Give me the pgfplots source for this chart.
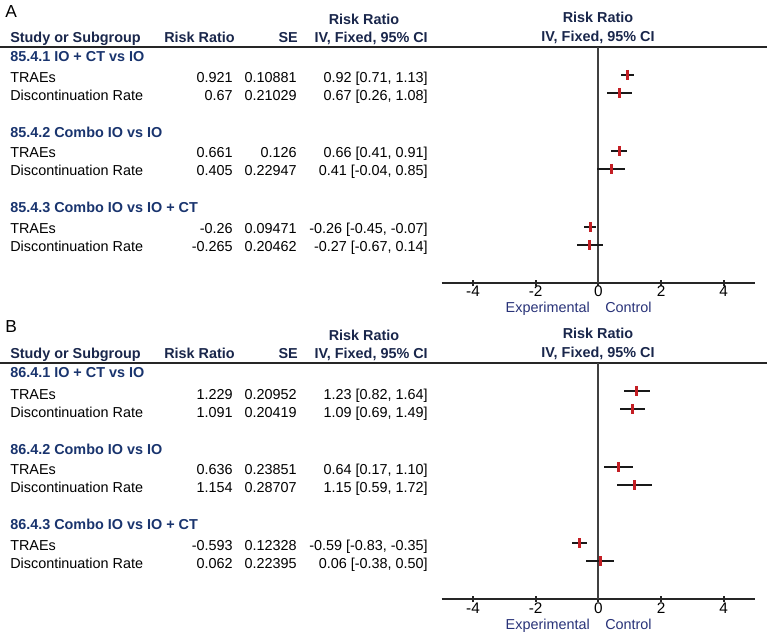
\documentclass[border=0pt]{standalone}
\usepackage{fontspec}
\setmainfont{Liberation Sans}
\usepackage{pgfplots}
\pgfplotsset{compat=1.18}
\usepackage{pgfplotstable}

\definecolor{hdr}{RGB}{25,38,75}
\definecolor{grp}{RGB}{25,52,110}
\definecolor{ec}{RGB}{40,50,120}
\definecolor{est}{RGB}{196,30,36}

% rows: y = -(pixel row), estimate, 95% CI
\pgfplotstableread{
y est lo hi
-75 0.92 0.71 1.13
-93 0.67 0.26 1.08
-151 0.66 0.41 0.91
-169 0.41 -0.04 0.85
-227 -0.26 -0.45 -0.07
-245 -0.27 -0.67 0.14
}\dataA
\pgfplotstableread{
y est lo hi
-391 1.23 0.82 1.64
-409 1.09 0.69 1.49
-467 0.64 0.17 1.10
-485 1.15 0.59 1.72
-543 -0.59 -0.83 -0.35
-561 0.06 -0.38 0.50
}\dataB

\pgfplotsset{forest/.style={
  scale only axis, width=235pt, height=177pt,
  xmin=-5, xmax=5, clip=false,
  axis x line*=bottom, axis y line=none,
  axis line style={line width=1.4pt, black!85},
  xtick={-4,-2,0,2,4}, xticklabels={-4,-2,0,2,4},
  tick align=center, major tick length=5pt,
  tick style={line width=1.4pt, black!85},
  xticklabel style={anchor=base, inner sep=0pt, font=\fontsize{11.5}{13}\selectfont},
  xticklabel shift=8pt,
  ytick=\empty,
}}

\newcommand{\forestplot}[1]{%
  \addplot[draw=none, mark=none, error bars/.cd, x dir=both, x explicit,
    error mark=none, error bar style={line width=1.4pt, black!90}]
    table[x=est, y=y, x error plus expr=\thisrow{hi}-\thisrow{est},
          x error minus expr=\thisrow{est}-\thisrow{lo}] {#1};
  \addplot[only marks, mark=|, mark size=3.75pt,
    mark options={line width=2.2pt, draw=est}] table[x=est, y=y] {#1};
}

\begin{document}
\fontsize{10.8}{13}\selectfont
\begin{tikzpicture}
\begin{scope}[x=0.75pt, y=0.75pt]
\path[use as bounding box] (0,0) rectangle (767,636);
\coordinate (pa) at (441.7,636-283);
\coordinate (pb) at (441.7,636-599);

% ---------- panel A ----------
\node[anchor=base west, inner sep=0, font=\fontsize{13}{15}\selectfont] at (5,636-18) {A};
\node[anchor=base, inner sep=0, font=\bfseries, text=hdr] at (364,636-25) {Risk Ratio};
\node[anchor=base, inner sep=0, font=\bfseries, text=hdr] at (598,636-23) {Risk Ratio};
\node[anchor=base west, inner sep=0, font=\bfseries, text=hdr] at (10,636-43) {Study or Subgroup};
\node[anchor=base east, inner sep=0, font=\bfseries, text=hdr] at (235,636-43) {Risk Ratio};
\node[anchor=base east, inner sep=0, font=\bfseries, text=hdr] at (298,636-43) {SE};
\node[anchor=base east, inner sep=0, font=\bfseries, text=hdr] at (428,636-43) {IV, Fixed, 95\% CI};
\node[anchor=base, inner sep=0, font=\bfseries, text=hdr] at (598,636-42) {IV, Fixed, 95\% CI};
\draw[line width=1.4pt, black!85] (0,636-47) -- (767,636-47);

\node[anchor=base west, inner sep=0, font=\bfseries, text=grp] at (10,636-62) {85.4.1 IO + CT vs IO};
\node[anchor=base west, inner sep=0] at (10,636-83) {TRAEs};
\node[anchor=base east, inner sep=0] at (233,636-83) {0.921};
\node[anchor=base east, inner sep=0] at (297,636-83) {0.10881};
\node[anchor=base east, inner sep=0] at (428,636-83) {0.92 [0.71, 1.13]};
\node[anchor=base west, inner sep=0] at (10,636-101) {Discontinuation Rate};
\node[anchor=base east, inner sep=0] at (233,636-101) {0.67};
\node[anchor=base east, inner sep=0] at (297,636-101) {0.21029};
\node[anchor=base east, inner sep=0] at (428,636-101) {0.67 [0.26, 1.08]};

\node[anchor=base west, inner sep=0, font=\bfseries, text=grp] at (10,636-138) {85.4.2 Combo IO vs IO};
\node[anchor=base west, inner sep=0] at (10,636-158) {TRAEs};
\node[anchor=base east, inner sep=0] at (233,636-158) {0.661};
\node[anchor=base east, inner sep=0] at (297,636-158) {0.126};
\node[anchor=base east, inner sep=0] at (428,636-158) {0.66 [0.41, 0.91]};
\node[anchor=base west, inner sep=0] at (10,636-176) {Discontinuation Rate};
\node[anchor=base east, inner sep=0] at (233,636-176) {0.405};
\node[anchor=base east, inner sep=0] at (297,636-176) {0.22947};
\node[anchor=base east, inner sep=0] at (428,636-176) {0.41 [-0.04, 0.85]};

\node[anchor=base west, inner sep=0, font=\bfseries, text=grp] at (10,636-213) {85.4.3 Combo IO vs IO + CT};
\node[anchor=base west, inner sep=0] at (10,636-234) {TRAEs};
\node[anchor=base east, inner sep=0] at (233,636-234) {-0.26};
\node[anchor=base east, inner sep=0] at (297,636-234) {0.09471};
\node[anchor=base east, inner sep=0] at (428,636-234) {-0.26 [-0.45, -0.07]};
\node[anchor=base west, inner sep=0] at (10,636-252) {Discontinuation Rate};
\node[anchor=base east, inner sep=0] at (233,636-252) {-0.265};
\node[anchor=base east, inner sep=0] at (297,636-252) {0.20462};
\node[anchor=base east, inner sep=0] at (428,636-252) {-0.27 [-0.67, 0.14]};

\node[anchor=base east, inner sep=0, text=ec] at (590,636-313) {Experimental};
\node[anchor=base west, inner sep=0, text=ec] at (605,636-313) {Control};

% ---------- panel B ----------
\node[anchor=base west, inner sep=0, font=\fontsize{13}{15}\selectfont] at (5,636-333) {B};
\node[anchor=base, inner sep=0, font=\bfseries, text=hdr] at (364,636-341) {Risk Ratio};
\node[anchor=base, inner sep=0, font=\bfseries, text=hdr] at (598,636-339) {Risk Ratio};
\node[anchor=base west, inner sep=0, font=\bfseries, text=hdr] at (10,636-359) {Study or Subgroup};
\node[anchor=base east, inner sep=0, font=\bfseries, text=hdr] at (235,636-359) {Risk Ratio};
\node[anchor=base east, inner sep=0, font=\bfseries, text=hdr] at (298,636-359) {SE};
\node[anchor=base east, inner sep=0, font=\bfseries, text=hdr] at (428,636-359) {IV, Fixed, 95\% CI};
\node[anchor=base, inner sep=0, font=\bfseries, text=hdr] at (598,636-358) {IV, Fixed, 95\% CI};
\draw[line width=1.4pt, black!85] (0,636-363) -- (767,636-363);

\node[anchor=base west, inner sep=0, font=\bfseries, text=grp] at (10,636-378) {86.4.1 IO + CT vs IO};
\node[anchor=base west, inner sep=0] at (10,636-399) {TRAEs};
\node[anchor=base east, inner sep=0] at (233,636-399) {1.229};
\node[anchor=base east, inner sep=0] at (297,636-399) {0.20952};
\node[anchor=base east, inner sep=0] at (428,636-399) {1.23 [0.82, 1.64]};
\node[anchor=base west, inner sep=0] at (10,636-417) {Discontinuation Rate};
\node[anchor=base east, inner sep=0] at (233,636-417) {1.091};
\node[anchor=base east, inner sep=0] at (297,636-417) {0.20419};
\node[anchor=base east, inner sep=0] at (428,636-417) {1.09 [0.69, 1.49]};

\node[anchor=base west, inner sep=0, font=\bfseries, text=grp] at (10,636-454) {86.4.2 Combo IO vs IO};
\node[anchor=base west, inner sep=0] at (10,636-474) {TRAEs};
\node[anchor=base east, inner sep=0] at (233,636-474) {0.636};
\node[anchor=base east, inner sep=0] at (297,636-474) {0.23851};
\node[anchor=base east, inner sep=0] at (428,636-474) {0.64 [0.17, 1.10]};
\node[anchor=base west, inner sep=0] at (10,636-492) {Discontinuation Rate};
\node[anchor=base east, inner sep=0] at (233,636-492) {1.154};
\node[anchor=base east, inner sep=0] at (297,636-492) {0.28707};
\node[anchor=base east, inner sep=0] at (428,636-492) {1.15 [0.59, 1.72]};

\node[anchor=base west, inner sep=0, font=\bfseries, text=grp] at (10,636-529) {86.4.3 Combo IO vs IO + CT};
\node[anchor=base west, inner sep=0] at (10,636-550) {TRAEs};
\node[anchor=base east, inner sep=0] at (233,636-550) {-0.593};
\node[anchor=base east, inner sep=0] at (297,636-550) {0.12328};
\node[anchor=base east, inner sep=0] at (428,636-550) {-0.59 [-0.83, -0.35]};
\node[anchor=base west, inner sep=0] at (10,636-568) {Discontinuation Rate};
\node[anchor=base east, inner sep=0] at (233,636-568) {0.062};
\node[anchor=base east, inner sep=0] at (297,636-568) {0.22395};
\node[anchor=base east, inner sep=0] at (428,636-568) {0.06 [-0.38, 0.50]};

\node[anchor=base east, inner sep=0, text=ec] at (590,636-629) {Experimental};
\node[anchor=base west, inner sep=0, text=ec] at (605,636-629) {Control};
\end{scope}

\begin{axis}[forest, at={(pa)}, anchor=south west, ymin=-283, ymax=-47]
  \addplot[line width=1.4pt, black!75] coordinates {(0,-283) (0,-47)};
  \forestplot{\dataA}
\end{axis}

\begin{axis}[forest, at={(pb)}, anchor=south west, ymin=-599, ymax=-363]
  \addplot[line width=1.4pt, black!75] coordinates {(0,-599) (0,-363)};
  \forestplot{\dataB}
\end{axis}
\end{tikzpicture}
\end{document}
